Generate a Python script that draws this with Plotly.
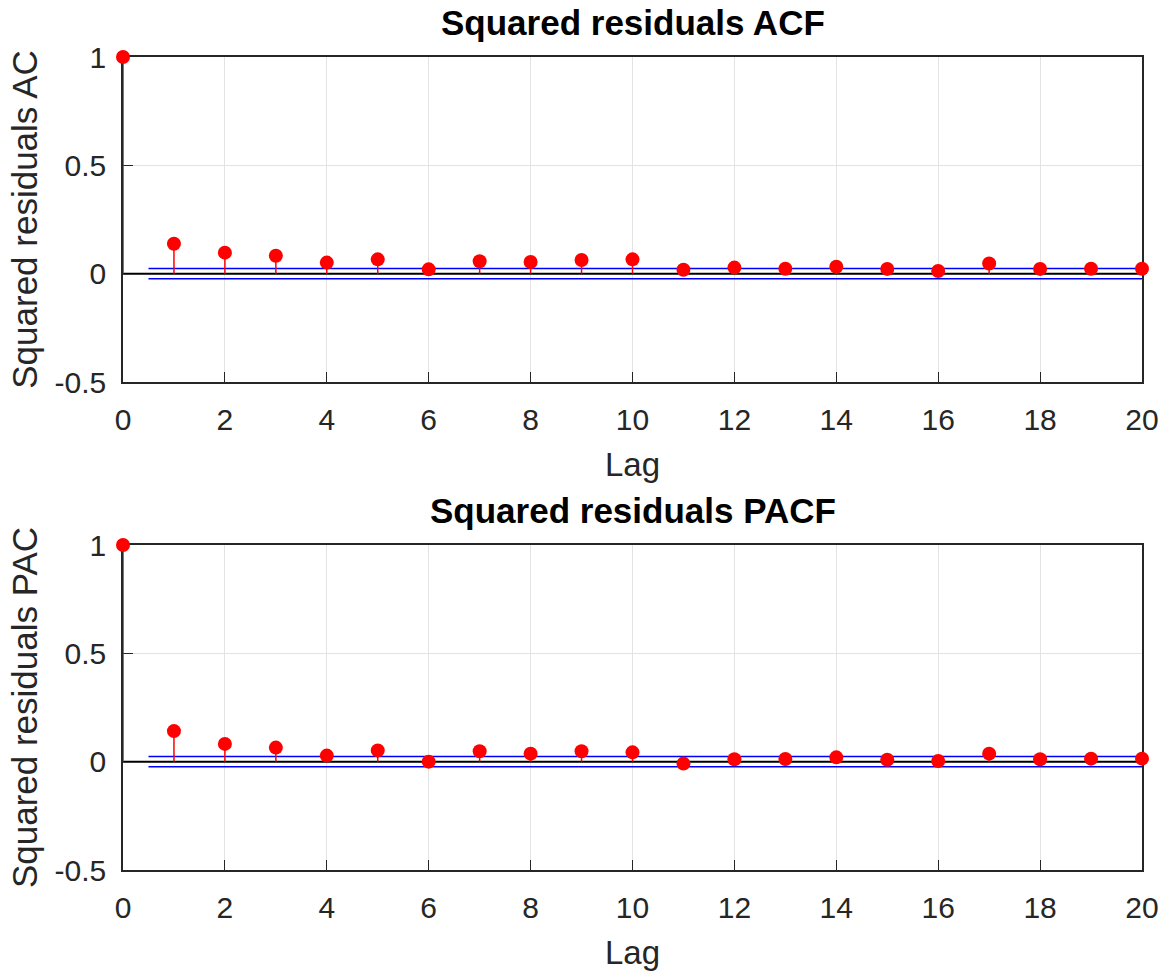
import plotly.graph_objects as go

lags = list(range(21))
acf_vals = [1.0, 0.138, 0.097, 0.083, 0.051, 0.066, 0.020, 0.057, 0.054, 0.063, 0.066,
            0.018, 0.028, 0.023, 0.032, 0.022, 0.012, 0.047, 0.022, 0.023, 0.023]
pacf_vals = [1.0, 0.141, 0.082, 0.065, 0.028, 0.052, 0.0, 0.048, 0.037, 0.048, 0.043,
             -0.009, 0.011, 0.012, 0.020, 0.009, 0.003, 0.037, 0.011, 0.014, 0.014]
acf_bound = 0.0235
pacf_bound = 0.0235
bound_x = [0.5, 20]

titles = ["Squared residuals ACF", "Squared residuals PACF"]
ylabels = ["Squared residuals AC", "Squared residuals PAC"]
ytick_vals = [-0.5, 0, 0.5, 1]
ytick_text = ["-0.5", "0", "0.5", "1"]

W, H = 1176, 977
ml, mr, mt, mb = 123, 34, 57, 107
ph = H - mt - mb
dom_h = (382 - 57) / ph

fig = go.Figure()
FONT = "Liberation Sans, Arial, Helvetica, sans-serif"
TXT = "#262626"

series = [(acf_vals, acf_bound), (pacf_vals, pacf_bound)]
for i, (vals, bnd) in enumerate(series):
    xa = "x" if i == 0 else "x2"
    ya = "y" if i == 0 else "y2"
    sx, sy = [], []
    for k, v in zip(lags, vals):
        sx += [k, k, None]
        sy += [0, v, None]
    fig.add_trace(go.Scatter(x=[lags[0], lags[-1]], y=[0, 0], mode="lines",
                             line=dict(color="black", width=2), xaxis=xa, yaxis=ya,
                             showlegend=False, hoverinfo="skip"))
    for s in (1, -1):
        fig.add_trace(go.Scatter(x=bound_x, y=[s * bnd, s * bnd], mode="lines",
                                 line=dict(color="#0000ff", width=1.5), xaxis=xa, yaxis=ya,
                                 showlegend=False, hoverinfo="skip", cliponaxis=False))
    fig.add_trace(go.Scatter(x=sx, y=sy, mode="lines", line=dict(color="red", width=1.5),
                             xaxis=xa, yaxis=ya, showlegend=False, cliponaxis=False))
    fig.add_trace(go.Scatter(x=lags, y=vals, mode="markers",
                             marker=dict(color="red", size=14, line=dict(width=0)),
                             xaxis=xa, yaxis=ya, showlegend=False, cliponaxis=False))

axcommon = dict(showline=True, linecolor=TXT, linewidth=1.5, mirror=True,
                showgrid=True, gridcolor="#e3e3e3", gridwidth=1, zeroline=False,
                ticks="inside", ticklen=10, tickcolor=TXT, layer="below traces",
                tickfont=dict(family=FONT, size=30, color=TXT))
xcommon = dict(range=[0, 20], dtick=2, ticklabelstandoff=10,
               title=dict(text="Lag", font=dict(family=FONT, size=33, color=TXT), standoff=18))
ycommon = dict(range=[-0.5, 1], tickvals=ytick_vals, ticktext=ytick_text, ticklabelstandoff=9)

fig.update_layout(
    width=W, height=H,
    margin=dict(l=ml, r=mr, t=mt, b=mb),
    plot_bgcolor="white", paper_bgcolor="white",
    xaxis=dict(domain=[0, 1], anchor="y", **xcommon, **axcommon),
    yaxis=dict(domain=[1 - dom_h, 1], anchor="x",
               title=dict(text=ylabels[0], font=dict(family=FONT, size=35, color=TXT), standoff=6),
               **ycommon, **axcommon),
    xaxis2=dict(domain=[0, 1], anchor="y2", **xcommon, **axcommon),
    yaxis2=dict(domain=[0, dom_h], anchor="x2",
                title=dict(text=ylabels[1], font=dict(family=FONT, size=35, color=TXT), standoff=6),
                **ycommon, **axcommon),
    annotations=[
        dict(text="<b>" + titles[0] + "</b>", x=0.5, xref="paper", y=1, yref="paper",
             yanchor="bottom", yshift=13, showarrow=False,
             font=dict(family=FONT, size=35, color="black")),
        dict(text="<b>" + titles[1] + "</b>", x=0.5, xref="paper", y=dom_h, yref="paper",
             yanchor="bottom", yshift=13, showarrow=False,
             font=dict(family=FONT, size=35, color="black")),
    ],
)

fig.write_html("out.html")
